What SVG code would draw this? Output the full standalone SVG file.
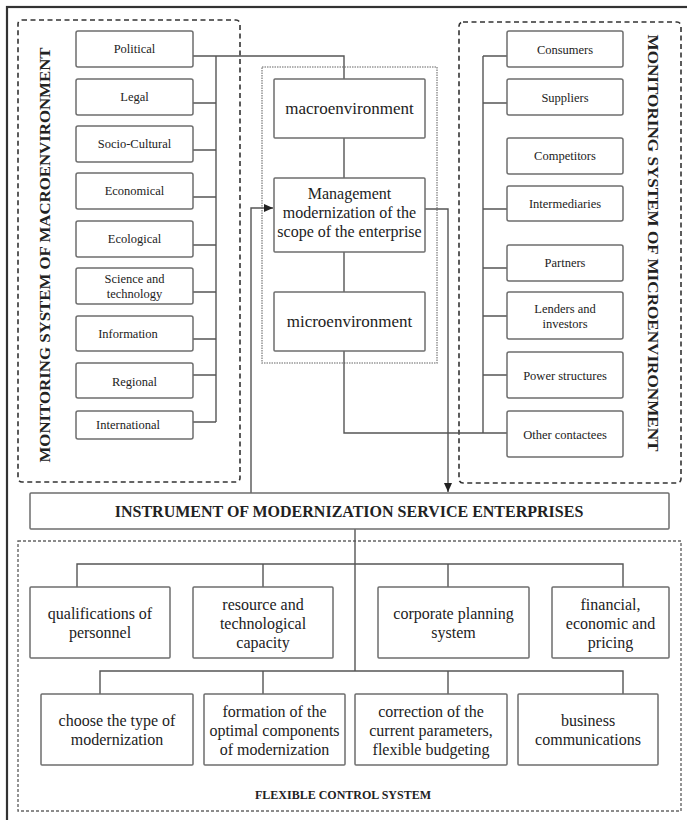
<svg xmlns="http://www.w3.org/2000/svg" width="687" height="820" viewBox="0 0 687 820">
<style>
.bg{fill:#ffffff}
.frame{fill:none;stroke:#333;stroke-width:2.2}
.dash{fill:none;stroke:#333;stroke-width:1.6;stroke-dasharray:5 3.5}
.dot{fill:none;stroke:#666;stroke-width:1.4;stroke-dasharray:3 2}
.inner{fill:none;stroke:#999;stroke-width:1.6;stroke-dasharray:1.5 1}
.box{fill:#fff;stroke:#6e6e6e;stroke-width:1.5}
.ln{fill:none;stroke:#555;stroke-width:1.4}
text{font-family:"Liberation Serif","Times New Roman",serif;fill:#222;text-anchor:middle}
.s{font-size:12.5px}
.m{font-size:17px}
.mm{font-size:16px}
.b{font-size:16px}
.t{font-size:15px;font-weight:bold}
.h{font-size:16px;font-weight:bold}
.f{font-size:12px;font-weight:bold}
</style>
<defs>
<marker id="arr" markerWidth="10" markerHeight="10" refX="9" refY="5" orient="auto" markerUnits="userSpaceOnUse">
<path d="M0,1 L9,5 L0,9 Z" fill="#222"/>
</marker>
</defs>
<rect class="bg" x="0" y="0" width="687" height="820"/>
<rect class="frame" x="7" y="7" width="690" height="830"/>

<!-- containers -->
<g id="macro-system">
<rect class="dash" x="18" y="20" width="222" height="462" rx="4"/>
<text class="t" transform="translate(50,255) rotate(-90)" textLength="415" lengthAdjust="spacingAndGlyphs">MONITORING SYSTEM OF MACROENVIRONMENT</text>
</g>
<g id="micro-system">
<rect class="dash" x="459" y="22" width="222" height="461" rx="4"/>
<text class="t" transform="translate(648,243) rotate(90)" textLength="417" lengthAdjust="spacingAndGlyphs">MONITORING SYSTEM OF MICROENVIRONMENT</text>
</g>
<g id="center-frame">
<rect class="inner" x="262" y="67" width="175" height="296"/>
</g>
<g id="flexible-system">
<rect class="dot" x="18" y="541" width="663" height="270"/>
<text class="f" x="343" y="799">FLEXIBLE CONTROL SYSTEM</text>
</g>

<!-- connectors -->
<g id="connectors">
<path class="ln" d="M216,56 V422"/>
<path class="ln" d="M193,56 H344 V79"/>
<path class="ln" d="M193,103 H216 M193,150 H216 M193,197 H216 M193,245 H216 M193,292 H216 M193,339 H216 M193,375 H216 M193,422 H216"/>
<path class="ln" d="M344,138 V178 M344,252 V292"/>
<path class="ln" d="M344,351 V433 H507"/>
<path class="ln" d="M483,56 V433"/>
<path class="ln" d="M483,56 H507 M483,103 H507 M483,209 H507 M483,268 H507 M483,316 H507 M483,375 H507"/>
<path class="ln" d="M251,493 V208 H273" marker-end="url(#arr)"/>
<path class="ln" d="M425,209 H448 V492" marker-end="url(#arr)"/>
<path class="ln" d="M355,529 V671"/>
<path class="ln" d="M77,587 V564 H623 V587 M263,564 V587 M448,564 V587"/>
<path class="ln" d="M100,694 V671 H623 V694 M263,671 V694 M448,671 V694"/>
</g>

<!-- left nodes -->
<g id="political"><rect class="box" x="76" y="31" width="117" height="36" rx="2"/><text class="s" x="134.5" y="53">Political</text></g>
<g id="legal"><rect class="box" x="76" y="79" width="117" height="36" rx="2"/><text class="s" x="134.5" y="101">Legal</text></g>
<g id="socio-cultural"><rect class="box" x="76" y="126" width="117" height="36" rx="2"/><text class="s" x="134.5" y="148">Socio-Cultural</text></g>
<g id="economical"><rect class="box" x="76" y="173" width="117" height="36" rx="2"/><text class="s" x="134.5" y="195">Economical</text></g>
<g id="ecological"><rect class="box" x="76" y="221" width="117" height="36" rx="2"/><text class="s" x="134.5" y="243">Ecological</text></g>
<g id="science"><rect class="box" x="76" y="268" width="117" height="36" rx="2"/><text class="s" x="134.5" y="283">Science and</text><text class="s" x="134.5" y="298">technology</text></g>
<g id="information"><rect class="box" x="76" y="316" width="117" height="35" rx="2"/><text class="s" x="128" y="338">Information</text></g>
<g id="regional"><rect class="box" x="76" y="363" width="117" height="35" rx="2"/><text class="s" x="134.5" y="386">Regional</text></g>
<g id="international"><rect class="box" x="76" y="411" width="117" height="28" rx="2"/><text class="s" x="128" y="429">International</text></g>

<!-- center nodes -->
<g id="macroenvironment"><rect class="box" x="274" y="79" width="151" height="59" rx="1"/><text class="m" x="349.5" y="114">macroenvironment</text></g>
<g id="management"><rect class="box" x="274" y="178" width="151" height="74" rx="1"/><text class="mm" x="349.5" y="199">Management</text><text class="mm" x="349.5" y="218">modernization of the</text><text class="mm" x="349.5" y="237">scope of the enterprise</text></g>
<g id="microenvironment"><rect class="box" x="274" y="292" width="151" height="59" rx="1"/><text class="m" x="349.5" y="327">microenvironment</text></g>

<!-- right nodes -->
<g id="consumers"><rect class="box" x="507" y="31" width="116" height="36" rx="2"/><text class="s" x="565" y="54">Consumers</text></g>
<g id="suppliers"><rect class="box" x="507" y="79" width="116" height="36" rx="2"/><text class="s" x="565" y="102">Suppliers</text></g>
<g id="competitors"><rect class="box" x="507" y="138" width="116" height="36" rx="2"/><text class="s" x="565" y="160">Competitors</text></g>
<g id="intermediaries"><rect class="box" x="507" y="186" width="116" height="35" rx="2"/><text class="s" x="565" y="208">Intermediaries</text></g>
<g id="partners"><rect class="box" x="507" y="245" width="116" height="36" rx="2"/><text class="s" x="565" y="267">Partners</text></g>
<g id="lenders"><rect class="box" x="507" y="292" width="116" height="47" rx="2"/><text class="s" x="565" y="313">Lenders and</text><text class="s" x="565" y="328">investors</text></g>
<g id="power"><rect class="box" x="507" y="352" width="116" height="46" rx="2"/><text class="s" x="565" y="380">Power structures</text></g>
<g id="other"><rect class="box" x="507" y="411" width="116" height="46" rx="2"/><text class="s" x="565" y="439">Other contactees</text></g>

<!-- instrument -->
<g id="instrument"><rect class="box" x="30" y="493" width="639" height="36" rx="1"/><text class="h" x="349" y="517">INSTRUMENT OF MODERNIZATION SERVICE ENTERPRISES</text></g>

<!-- row 1 -->
<g id="qualifications"><rect class="box" x="30" y="587" width="140" height="71" rx="1"/><text class="b" x="100" y="619">qualifications of</text><text class="b" x="100" y="638">personnel</text></g>
<g id="resource"><rect class="box" x="193" y="587" width="140" height="71" rx="1"/><text class="b" x="263" y="610">resource and</text><text class="b" x="263" y="629">technological</text><text class="b" x="263" y="648">capacity</text></g>
<g id="corporate"><rect class="box" x="378" y="587" width="151" height="71" rx="1"/><text class="b" x="453.5" y="619">corporate planning</text><text class="b" x="453.5" y="638">system</text></g>
<g id="financial"><rect class="box" x="552" y="587" width="117" height="71" rx="1"/><text class="b" x="610.5" y="610">financial,</text><text class="b" x="610.5" y="629">economic and</text><text class="b" x="610.5" y="648">pricing</text></g>

<!-- row 2 -->
<g id="choose"><rect class="box" x="41" y="694" width="152" height="71" rx="1"/><text class="b" x="117" y="726">choose the type of</text><text class="b" x="117" y="745">modernization</text></g>
<g id="formation"><rect class="box" x="204" y="694" width="141" height="71" rx="1"/><text class="b" x="274.5" y="717">formation of the</text><text class="b" x="274.5" y="736">optimal components</text><text class="b" x="274.5" y="755">of modernization</text></g>
<g id="correction"><rect class="box" x="355" y="694" width="152" height="71" rx="1"/><text class="b" x="431" y="717">correction of the</text><text class="b" x="431" y="736">current parameters,</text><text class="b" x="431" y="755">flexible budgeting</text></g>
<g id="business"><rect class="box" x="518" y="694" width="140" height="71" rx="1"/><text class="b" x="588" y="726">business</text><text class="b" x="588" y="745">communications</text></g>
</svg>
